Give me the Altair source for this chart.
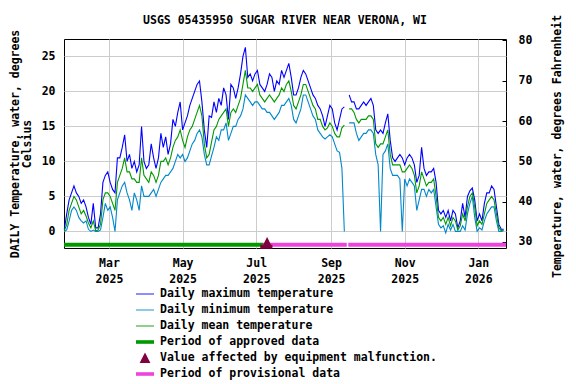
import altair as alt
import pandas as pd

FONT = "DejaVu Sans Mono"

# Daily temperature (deg C), sampled every 2nd day starting 2025-01-23
tmax = [0.3, 2.5, 4.5, 5.5, 6.5, 5.5, 5.0, 4.0, 4.5, 3.5, 2.0, 1.0, 4.0, 0.5, 0.5, 2.5,
        7.0, 8.0, 8.5, 7.0, 6.0, 5.5, 10.5, 10.5, 12.0, 13.8, 10.0, 11.0, 9.0, 10.0, 8.5,
        9.5, 15.0, 10.0, 9.0, 9.5, 12.5, 10.5, 9.0, 10.5, 14.0, 12.0, 13.5, 11.0, 12.5, 16.0,
        15.0, 17.0, 18.5, 14.5, 15.5, 16.5, 18.0, 19.0, 20.0, 21.0, 21.5, 18.5, 14.5, 12.0, 16.5, 16.3,
        18.5, 17.0, 19.0, 18.0, 20.5, 19.5, 16.0, 21.0, 20.5, 19.0, 20.5, 22.5, 25.0, 26.3, 22.0,
        22.5, 21.5, 22.5, 23.0, 21.0, 20.5, 20.0, 21.0, 22.5, 22.0, 20.0, 21.5, 21.0, 23.0, 22.0,
        23.0, 24.0, 22.0, 19.5, 19.5, 20.5, 22.0, 23.0, 22.5, 21.5, 20.5, 19.5, 19.0, 18.0, 17.5,
        16.5, 15.0, 16.5, 18.0, 17.5, 15.5, 14.5, 16.0, 17.5, 17.8, None, 19.5, 18.5, 18.5, 17.5,
        17.5, 18.0, 18.5, 18.0, 18.5, 19.0, 18.0, 14.5, 14.0, 14.5, 14.0, 15.5, 16.8, 13.0, 10.5,
        10.0, 10.5, 11.0, 10.5, 9.5, 10.5, 11.0, 10.5, 9.5, 7.0, 8.0, 12.0, 9.0, 8.0, 8.5, 8.5,
        9.0, 7.0, 3.0, 2.5, 3.0, 2.0, 3.0, 1.5, 3.0, 2.5, 0.5, 1.5, 4.0, 2.0, 5.0, 5.8, 6.2,
        4.5, 1.5, 2.5, 1.5, 4.0, 5.5, 5.5, 6.5, 6.0, 3.5, 1.0, 0.3, 0.3]

tmin = [0.0, 0.2, 1.5, 3.0, 3.5, 3.0, 2.0, 1.5, 1.2, 1.5, 0.3, 0.0, 0.2, 0.0, 0.0, 0.2,
        2.0, 4.0, 3.0, 3.5, 2.0, 0.0, 4.5, 5.5, 6.5, 7.0, 5.5, 4.5, 3.0, 5.5, 4.5,
        3.0, 6.5, 5.0, 5.0, 5.0, 5.5, 6.0, 5.0, 6.0, 7.0, 7.5, 8.0, 8.0, 8.5, 9.0,
        10.0, 11.0, 10.5, 11.0, 10.0, 10.5, 11.5, 12.5, 13.0, 14.0, 14.5, 13.5, 11.0, 9.5, 9.5, 10.8,
        12.0, 13.5, 13.0, 14.5, 14.5, 15.5, 13.0, 14.0, 15.0, 15.0, 16.0, 16.5, 17.5, 19.5, 19.0,
        18.5, 18.0, 18.5, 18.5, 18.0, 17.5, 17.5, 17.0, 17.0, 16.5, 16.0, 16.5, 17.0, 18.0, 18.0,
        18.5, 19.0, 18.0, 16.0, 15.5, 16.5, 17.5, 19.5, 19.5, 18.5, 17.5, 16.5, 16.0, 14.5, 14.0,
        13.5, 13.2, 13.5, 13.8, 13.5, 12.5, 11.5, 11.3, 9.0, 0.0, None, 15.5, 15.5, 15.5, 14.0,
        13.0, 13.5, 14.0, 14.0, 14.5, 14.5, 14.0, 11.0, 9.5, 0.0, 11.0, 11.5, 12.5, 9.0, 8.0,
        8.0, 8.0, 7.5, 0.0, 7.5, 6.5, 7.5, 7.0, 6.5, 3.0, 4.5, 6.0, 6.0, 5.0, 6.0, 5.5,
        6.0, 3.5, 1.0, 0.5, 0.8, -0.2, 1.0, 0.2, 1.0, 0.0, 0.0, 0.0, 0.8, 0.2, 2.5, 4.0, 5.0,
        2.0, 0.0, 0.5, 0.2, 1.5, 2.5, 3.0, 3.5, 3.5, 1.5, 0.0, 0.0, 0.1]

tmean = [0.1, 1.0, 3.0, 4.0, 5.0, 4.5, 3.5, 2.5, 3.0, 2.2, 1.2, 0.5, 1.5, 0.1, 0.2, 1.0,
         4.5, 5.5, 5.5, 5.0, 4.0, 3.0, 7.0, 8.0, 9.0, 10.5, 8.5, 8.5, 7.5, 7.5, 7.0,
         7.0, 10.5, 8.0, 7.5, 7.0, 8.5, 8.0, 7.0, 8.0, 10.0, 10.0, 10.5, 9.5, 10.5, 12.0,
         13.0, 13.5, 14.5, 13.0, 12.0, 13.5, 14.5, 15.0, 16.0, 17.0, 18.0, 16.5, 12.5, 10.5, 11.0, 12.8,
         14.5, 15.0, 16.0, 16.5, 17.0, 17.5, 15.0, 17.0, 17.5, 17.0, 18.0, 19.0, 21.0, 23.0, 20.5,
         20.5, 20.0, 20.5, 21.0, 19.5, 19.0, 18.5, 19.0, 19.5, 19.0, 18.5, 19.0, 19.5, 20.5, 20.0,
         21.0, 21.5, 20.0, 18.0, 17.5, 18.5, 19.5, 21.0, 21.0, 20.0, 19.0, 18.0, 17.5, 16.0, 16.0,
         15.0, 14.5, 14.8, 15.5, 15.0, 14.0, 13.5, 13.5, 14.8, 15.2, None, 17.5, 17.5, 17.0, 16.0,
         15.5, 16.0, 16.0, 16.0, 16.5, 16.5, 16.0, 12.5, 12.0, 12.5, 12.5, 13.5, 14.5, 11.0, 9.5,
         9.5, 9.5, 9.5, 8.5, 8.5, 9.0, 9.5, 9.0, 8.0, 5.5, 6.5, 8.5, 7.5, 6.5, 7.0, 7.0,
         7.5, 5.0, 2.0, 1.5, 2.0, 1.0, 2.0, 0.8, 2.0, 1.5, 0.2, 0.8, 2.5, 1.5, 3.5, 5.0, 5.5,
         3.5, 0.8, 1.5, 1.0, 2.5, 4.0, 4.5, 5.0, 4.5, 2.5, 0.5, 0.1, 0.2]

# Data-quality periods
period_kind = ["Period of approved data", "Period of provisional data", "Period of provisional data"]
period_start = ["2025-01-22T18:00:00", "2025-07-06T14:00:00", "2025-09-15T06:00:00"]
period_end = ["2025-07-06T14:00:00", "2025-09-14T00:00:00", "2026-01-23T22:00:00"]

# Equipment malfunction flag
mal_label = ["Value affected by equipment malfunction."]
mal_date = ["2025-07-10T00:00:00"]
mal_start = ["2025-07-04T08:00:00"]
mal_end = ["2025-07-14T10:00:00"]

f_ticks = [30, 40, 50, 60, 70, 80]
c_ticks = [0, 5, 10, 15, 20, 25]

legend_labels = ["Daily maximum temperature", "Daily minimum temperature", "Daily mean temperature",
                 "Period of approved data", "Value affected by equipment malfunction.",
                 "Period of provisional data"]
MAXC, MINC, MEANC = "#0000FF", "#0088CC", "#009900"
APPC, MALC, PROVC = "#009900", "#800040", "#EE44DD"
legend_colors = [MAXC, MINC, MEANC, APPC, MALC, PROVC]
LINE = "M-1,-0.05H1V0.05H-1Z"
BAR = "M-1,-0.2H1V0.2H-1Z"
TRI = "M-0.6,0.55L0,-0.6L0.6,0.55Z"
legend_shapes = [LINE, LINE, LINE, BAR, TRI, BAR]

dates = pd.date_range("2025-01-23", periods=len(tmax), freq="2D")
df = pd.DataFrame({"date": dates.strftime("%Y-%m-%dT%H:%M:%S"),
                   "tmax": tmax, "tmin": tmin, "tmean": tmean})
periods = pd.DataFrame({"kind": period_kind, "start": period_start, "end": period_end})
mal = pd.DataFrame({"label": mal_label, "date": mal_date, "start": mal_start, "end": mal_end})
fdf = pd.DataFrame({"f": f_ticks})

xscale = alt.Scale(domain=[alt.DateTime(year=2025, month=1, date=22, hours=18),
                           alt.DateTime(year=2026, month=1, date=23, hours=22)])
xaxis = alt.Axis(values=[alt.DateTime(year=2025, month=3, date=1), alt.DateTime(year=2025, month=5, date=1),
                         alt.DateTime(year=2025, month=7, date=1), alt.DateTime(year=2025, month=9, date=1),
                         alt.DateTime(year=2025, month=11, date=1), alt.DateTime(year=2026, month=1, date=1)],
                 labelExpr="[timeFormat(datum.value, '%b'), timeFormat(datum.value, '%Y')]",
                 grid=True, gridColor="#CCCCCC", gridWidth=1, domain=False, ticks=False,
                 labelPadding=9, labelLineHeight=16, labelAlign="center", labelBaseline="top",
                 title=None)
yscale = alt.Scale(domain=[-2.37, 27.49], nice=False, zero=False)
yaxis = alt.Axis(values=c_ticks, grid=True, gridColor="#CCCCCC", gridWidth=1, domain=False,
                 ticks=False, labelPadding=9,
                 title=["DAILY Temperature, water, degrees", "Celsius"],
                 titleAngle=270, titleX=-49, titleY=104.5, titleAlign="center",
                 titleBaseline="middle", titleLineHeight=12.5)

base = alt.Chart(df)


def line(field, color):
    return base.mark_line(color=color, strokeWidth=1.1, invalid="break-paths-filter-domains").encode(
        x=alt.X("date:T", scale=xscale, axis=xaxis),
        y=alt.Y(f"{field}:Q", scale=yscale, axis=yaxis),
    )


lines = [line("tmax", MAXC), line("tmin", MINC), line("tmean", MEANC)]

bars = alt.Chart(periods).mark_rule(strokeWidth=4, strokeCap="butt").encode(
    x=alt.X("start:T", scale=xscale, axis=xaxis),
    x2="end:T",
    y=alt.YDatum(-1.9, scale=yscale, axis=yaxis),
    color=alt.Color("kind:N", scale=alt.Scale(domain=["Period of approved data", "Period of provisional data"],
                                              range=[APPC, PROVC]), legend=None),
)

mal_bar = alt.Chart(mal).mark_rule(strokeWidth=4, strokeCap="butt", color=MALC).encode(
    x=alt.X("start:T", scale=xscale, axis=xaxis),
    x2="end:T",
    y=alt.YDatum(-2.2, scale=yscale, axis=yaxis),
)

legend = alt.Legend(orient="none", legendX=72, legendY=247, title=None, symbolSize=324,
                    clipHeight=16, rowPadding=0, labelOffset=6, symbolStrokeWidth=0,
                    padding=0, direction="vertical", labelFont=FONT, labelFontSize=11.5,
                    labelFontWeight="bold", labelColor="black", labelLimit=400)

mal_pt = alt.Chart(mal).mark_point(filled=True, size=220, opacity=1, strokeWidth=0).encode(
    x=alt.X("date:T", scale=xscale, axis=xaxis),
    y=alt.YDatum(-1.45, scale=yscale, axis=yaxis),
    fill=alt.Fill("label:N", scale=alt.Scale(domain=legend_labels, range=legend_colors), legend=legend),
    shape=alt.Shape("label:N", scale=alt.Scale(domain=legend_labels, range=legend_shapes), legend=legend),
)

inner = alt.layer(*lines, bars, mal_bar, mal_pt)

faxis = alt.Chart(fdf).mark_point(opacity=0).encode(
    y=alt.Y("f:Q", scale=alt.Scale(domain=[28.51, 80.35], nice=False, zero=False),
            axis=alt.Axis(orient="right", values=f_ticks, grid=False, domain=False, tickSize=4,
                          tickColor="black", offset=-4, labelPadding=12,
                          title="Temperature, water, degrees Fahrenheit", titleAngle=270,
                          titleX=55, titleY=107, titleAlign="center", titleBaseline="middle")),
)

chart = alt.layer(inner, faxis).resolve_scale(y="independent").properties(
    width=442, height=209,
    title=alt.TitleParams("USGS 05435950 SUGAR RIVER NEAR VERONA, WI", frame="group", offset=14, dy=26),
    autosize=alt.AutoSizeParams(type="none"),
    padding={"left": 56, "top": 31, "right": 62, "bottom": 136},
).configure(font=FONT).configure_axis(
    labelFont=FONT, labelFontSize=11.5, labelFontWeight="bold", labelColor="black",
    titleFont=FONT, titleFontSize=11.5, titleFontWeight="bold", titleColor="black",
).configure_view(stroke="black", strokeWidth=1).configure_title(
    font=FONT, fontSize=11.5, fontWeight="bold", color="black", anchor="middle",
)

chart.save("out.html", embed_options={"renderer": "svg", "actions": False})
